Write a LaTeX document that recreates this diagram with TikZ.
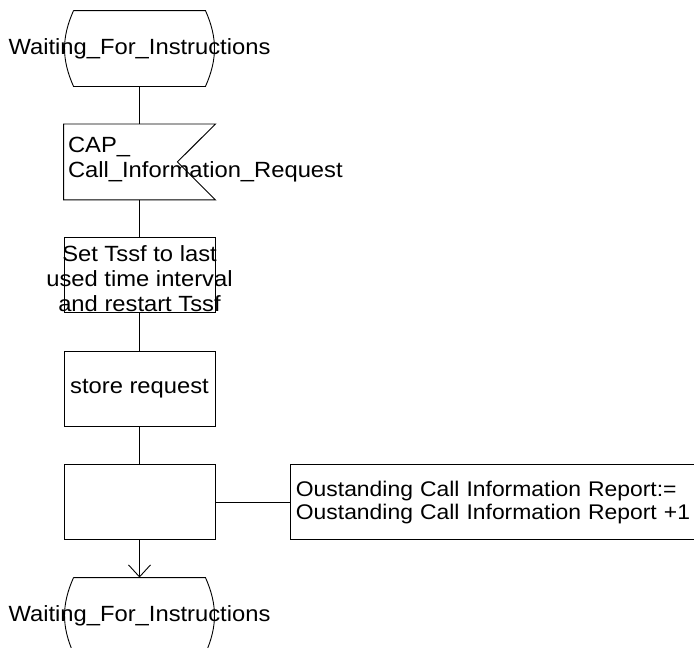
\documentclass[tikz,border=0pt]{standalone}
\usepackage{fontspec}
\setmainfont{Liberation Sans}[FakeStretch=1.08]
\usetikzlibrary{arrows.meta, positioning}

\begin{document}
\begin{tikzpicture}[
		x=1pt, y=1pt,
		node distance=37.5pt,
		line width=0.9pt,
		font=\fontsize{22}{25}\selectfont,
		symbol/.style={rectangle, minimum width=151pt, minimum height=75pt, inner sep=0pt},
		taskbox/.style={symbol, draw},
		txt/.style={inner sep=0pt, align=center},
		note/.style={rectangle, draw, minimum width=430pt, minimum height=75pt, text width=420pt, inner sep=5pt, align=left, font=\fontsize{21.2}{23}\selectfont}
		]
		\useasboundingbox (0,0) rectangle (694,-648);
		% Nodes
		\node (wait1) [symbol] at (139.5,-48.5) {};
		\node (cireq) [symbol, below=of wait1] {};
		\node (settssf) [taskbox, below=of cireq] {};
		\node (store) [taskbox, below=of settssf] {store request};
		\node (count) [taskbox, below=of store] {};
		\node (report) [note, right=75pt of count] {Oustanding Call Information Report:=\\Oustanding Call Information Report +1};
		\node (wait2) [symbol, below=of count] {};
		
		% Texts
		\node (wait1-txt) [txt] at (wait1) {Waiting\_For\_Instructions};
		\node (wait2-txt) [txt] at (wait2) {Waiting\_For\_Instructions};
		\node (cireq-txt) [txt, anchor=west, align=left] at ([xshift=4pt, yshift=2pt]cireq.west) {CAP\_\\Call\_Information\_Request};
		\node (settssf-txt) [txt] at ([yshift=-3pt]settssf.center) {Set Tssf to last\\used time interval\\and restart Tssf};
		
		% Outlines
		\foreach \s in {wait1, wait2}
			\draw ([xshift=10pt]\s.north west) -- ([xshift=-10pt]\s.north east) to[bend left=24] ([xshift=-10pt]\s.south east) -- ([xshift=10pt]\s.south west) to[bend left=24] ([xshift=10pt]\s.north west);
		\draw (cireq.north west) -- (cireq.north east) -- ([xshift=-38pt]cireq.east) -- (cireq.south east) -- (cireq.south west) -- cycle;
		
		% Arrows
		\draw (wait1) -- (cireq);
		\draw (cireq) -- (settssf);
		\draw (settssf) -- (store);
		\draw (store) -- (count);
		\draw (count) -- (report);
		\draw [-{Straight Barb[length=12pt, width=22pt]}] (count) -- (wait2);
		
	\end{tikzpicture}
\end{document}
